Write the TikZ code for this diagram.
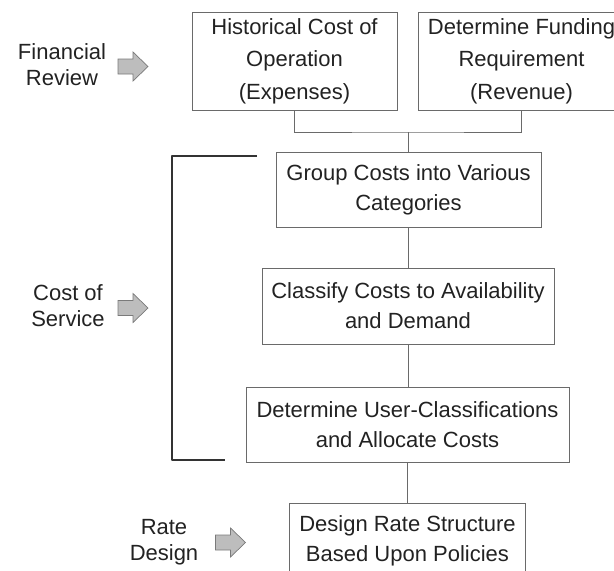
\documentclass[tikz,border=0pt]{standalone}
\usepackage{fontspec}
\setmainfont{Liberation Sans}
\definecolor{boxline}{HTML}{6A6A6A}
\definecolor{txt}{HTML}{222222}
\definecolor{arrowfill}{HTML}{BDBDBD}
\definecolor{arrowline}{HTML}{7A7A7A}
\newcommand\boxfont{\fontsize{22}{30}\selectfont}
\newcommand\labelfont{\fontsize{22}{26}\selectfont}
\tikzset{
  stepbox/.style={draw=boxline, line width=0.8pt, align=center, inner sep=0pt,
    font=\boxfont, text=txt},
  link/.style={draw=boxline, line width=0.8pt},
  bracketline/.style={draw=black!80, line width=2pt, line join=round},
  sidelabel/.style={align=center, font=\labelfont, text=txt, inner sep=0pt},
  blockarrow/.pic={
    \path[fill=arrowfill, draw=arrowline, line width=0.7pt, line join=miter]
      (0,-7.5) -- (15,-7.5) -- (15,-14.5) -- (30,0) -- (15,14.5)
      -- (15,7.5) -- (0,7.5) -- cycle;
  }
}
\begin{document}
\begin{tikzpicture}[x=1pt, y=-1pt]
  \path[use as bounding box] (0,0) rectangle (614,571);
  \clip (0,0) rectangle (614,571);

  % process boxes
  \node[stepbox, minimum width=205pt, minimum height=98pt,
        font=\fontsize{22}{32.5}\selectfont] (hist) at (294.5,61)
    {Historical Cost of\\Operation\\(Expenses)};
  \node[stepbox, minimum width=207pt, minimum height=98pt,
        font=\fontsize{22}{32.5}\selectfont] (fund) at (521.5,61)
    {Determine Funding\\Requirement\\(Revenue)};
  \node[stepbox, minimum width=265pt, minimum height=75pt] (group) at (408.5,189.5)
    {Group Costs into Various\\Categories};
  \node[stepbox, minimum width=292pt, minimum height=76pt] (classify) at (408,306)
    {Classify Costs to Availability\\and Demand};
  \node[stepbox, minimum width=323pt, minimum height=75pt] (allocate) at (407.5,424.5)
    {Determine User-Classifications\\and Allocate Costs};
  \node[stepbox, minimum width=236pt, minimum height=75pt] (design) at (407.5,540.5)
    {Design Rate Structure\\Based Upon Policies};

  % connectors
  \coordinate (join) at (408,132);
  \draw[link] (hist.south) |- (join) -| (fund.south);
  \draw[link] (join) -- (join |- group.north);
  \draw[link] (group.south) -- (group.south |- classify.north);
  \draw[link] (classify.south) -- (classify.south |- allocate.north);
  \draw[link] (allocate.south) -- (allocate.south |- design.north);

  % bracket spanning the cost of service steps
  \coordinate (brtop) at (257,156);
  \coordinate (brbot) at (225,460);
  \draw[bracketline] (brtop) -- (172,156) -- (172,460) -- (brbot);

  % phase labels with arrows
  \node[sidelabel] (fin) at (62,65) {Financial\\Review};
  \pic at (118,66.5) {blockarrow};
  \node[sidelabel] (cos) at (68,306) {Cost of\\Service};
  \pic at (118,308) {blockarrow};
  \node[sidelabel] (rate) at (164,542) {Rate\\Design};
  \pic at (215.5,542.5) {blockarrow};
\end{tikzpicture}
\end{document}
